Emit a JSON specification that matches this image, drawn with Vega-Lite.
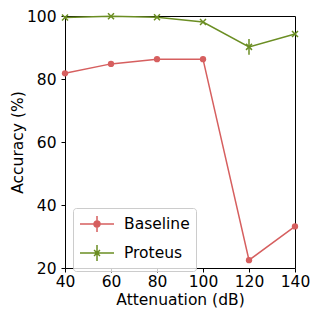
{
  "$schema": "https://vega.github.io/schema/vega-lite/v6.json",
  "width": 230,
  "height": 252,
  "autosize": "none",
  "padding": {"left": 65, "top": 16, "right": 25, "bottom": 52},
  "background": "white",
  "config": {
    "font": "DejaVu Sans",
    "view": {"stroke": "black", "strokeWidth": 1},
    "axis": {
      "grid": false,
      "domain": false,
      "tickColor": "black",
      "tickSize": 4,
      "tickWidth": 1,
      "labelFont": "DejaVu Sans",
      "labelFontSize": 15.5,
      "labelColor": "black",
      "labelFlush": false,
      "labelOverlap": false,
      "titleFont": "DejaVu Sans",
      "titleFontSize": 15.5,
      "titleFontWeight": "normal",
      "titleColor": "black"
    }
  },
  "data": {
    "values": [
      {"series": "Baseline", "att": 40, "acc": 81.8, "lo": 81.8, "hi": 81.8},
      {"series": "Baseline", "att": 60, "acc": 84.8, "lo": 84.8, "hi": 84.8},
      {"series": "Baseline", "att": 80, "acc": 86.3, "lo": 86.3, "hi": 86.3},
      {"series": "Baseline", "att": 100, "acc": 86.3, "lo": 86.3, "hi": 86.3},
      {"series": "Baseline", "att": 120, "acc": 22.5, "lo": 22.5, "hi": 22.5},
      {"series": "Baseline", "att": 140, "acc": 33.2, "lo": 33.2, "hi": 33.2},
      {"series": "Proteus", "att": 40, "acc": 99.5, "lo": 99.5, "hi": 99.5},
      {"series": "Proteus", "att": 60, "acc": 99.9, "lo": 99.9, "hi": 99.9},
      {"series": "Proteus", "att": 80, "acc": 99.6, "lo": 99.6, "hi": 99.6},
      {"series": "Proteus", "att": 100, "acc": 98.1, "lo": 98.1, "hi": 98.1},
      {"series": "Proteus", "att": 120, "acc": 90.2, "lo": 87.7, "hi": 92.7},
      {"series": "Proteus", "att": 140, "acc": 94.3, "lo": 94.3, "hi": 94.3}
    ]
  },
  "encoding": {
    "x": {
      "field": "att", "type": "quantitative",
      "scale": {"domain": [40, 140], "nice": false, "zero": false},
      "axis": {"values": [40, 60, 80, 100, 120, 140], "title": "Attenuation (dB)", "labelPadding": 2, "titlePadding": 3}
    },
    "y": {
      "field": "acc", "type": "quantitative",
      "scale": {"domain": [20, 100], "nice": false, "zero": false},
      "axis": {"values": [20, 40, 60, 80, 100], "title": "Accuracy (%)", "labelPadding": 5, "titlePadding": 1}
    }
  },
  "layer": [
    {
      "transform": [{"filter": "datum.series === 'Baseline'"}],
      "mark": {"type": "line", "strokeWidth": 1.5, "color": "#d65f5f"},
      "encoding": {}
    },
    {
      "transform": [{"filter": "datum.series === 'Proteus'"}],
      "mark": {"type": "line", "strokeWidth": 1.5, "color": "#6b8e23"},
      "encoding": {}
    },
    {
      "transform": [{"filter": "datum.series === 'Proteus'"}],
      "mark": {"type": "rule", "strokeWidth": 1.5, "color": "#6b8e23"},
      "encoding": {
        "y": {"field": "lo", "type": "quantitative"},
        "y2": {"field": "hi"}
      }
    },
    {
      "transform": [{"filter": "datum.series === 'Baseline'"}],
      "mark": {"type": "point", "shape": "circle", "filled": true, "size": 40, "opacity": 1, "color": "#d65f5f"}
    },
    {
      "transform": [{"filter": "datum.series === 'Proteus'"}],
      "mark": {"type": "point", "shape": "M-1,-1L1,1M-1,1L1,-1", "filled": false, "size": 36, "strokeWidth": 1.5, "opacity": 1, "color": "#6b8e23"}
    },
    {
      "mark": {"type": "point", "filled": true, "opacity": 0},
      "encoding": {
        "color": {
          "field": "series", "type": "nominal",
          "scale": {"domain": ["Baseline", "Proteus"], "range": ["#d65f5f", "#6b8e23"]},
          "legend": {
            "title": null,
            "orient": "none",
            "legendX": 8,
            "legendY": 192,
            "padding": 6,
            "fillColor": "rgba(255,255,255,0.8)",
            "strokeColor": "#cccccc",
            "cornerRadius": 3,
            "labelFont": "DejaVu Sans",
            "labelFontSize": 15.5,
            "labelColor": "black",
            "labelOffset": 25,
            "symbolSize": 324,
            "symbolStrokeWidth": 1.5,
            "symbolOpacity": 1,
            "rowPadding": 5,
            "encode": {
              "symbols": {
                "update": {
                  "opacity": {"value": 1},
                  "strokeWidth": {"value": 1.5},
                  "stroke": {"scale": "color", "field": "value"}
                }
              }
            }
          }
        },
        "shape": {
          "field": "series", "type": "nominal",
          "scale": {"domain": ["Baseline", "Proteus"], "range": [
            "M-1,0H2.78M0.89,-0.89V0.89M1.22,0A0.33,0.33 0 1,1 0.56,0A0.33,0.33 0 1,1 1.22,0Z",
            "M-1,0H2.78M0.89,-0.89V0.89M0.56,-0.33L1.22,0.33M0.56,0.33L1.22,-0.33"
          ]}
        }
      }
    }
  ]
}
